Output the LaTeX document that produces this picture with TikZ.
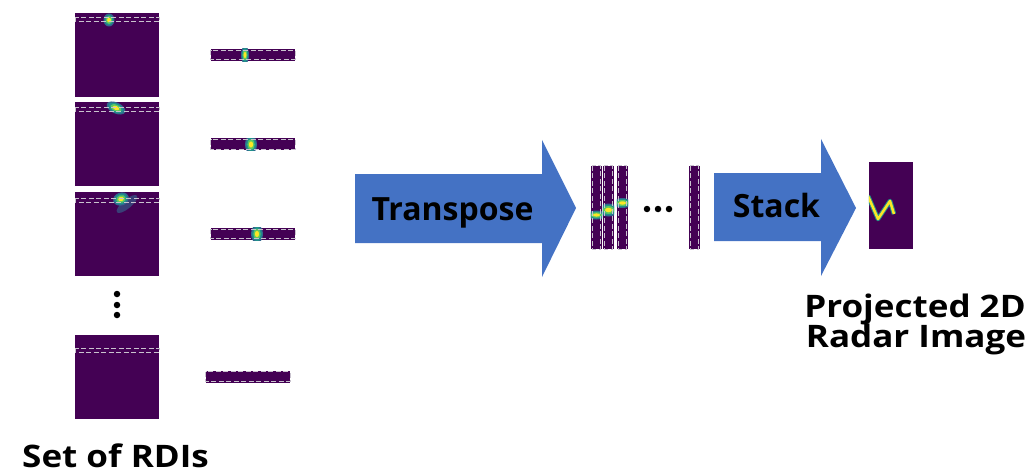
\documentclass[tikz,border=0pt]{standalone}
\usepackage{fontspec}
\setmainfont{Open Sans}
\newfontfamily\capfont[FakeStretch=1.13]{Open Sans}
\definecolor{vpurple}{HTML}{440154}
\definecolor{vblue}{HTML}{31688E}
\definecolor{vteal}{HTML}{21918C}
\definecolor{vgreen}{HTML}{5EC962}
\definecolor{vyellow}{HTML}{FDE725}
\definecolor{dashgray}{HTML}{C9C3CE}
\definecolor{arrowblue}{HTML}{4472C4}
\newcommand\myblob[5]{% x y rx ry rotate
  \fill[vblue,rotate around={#5:(#1,#2)}] (#1,#2) ellipse [x radius=#3, y radius=#4];
  \fill[vteal,rotate around={#5:(#1,#2)}] (#1,#2) ellipse [x radius=0.8*#3, y radius=0.8*#4];
  \fill[vgreen,rotate around={#5:(#1,#2)}] (#1,#2) ellipse [x radius=0.6*#3, y radius=0.6*#4];
  \fill[vyellow,rotate around={#5:(#1,#2)}] (#1,#2) ellipse [x radius=0.35*#3, y radius=0.35*#4];
}
\begin{document}
\begin{tikzpicture}[x=1pt,y=-1pt,
  rdi/.style={fill=vpurple,draw=none,minimum width=84pt,minimum height=84pt,inner sep=0pt,outer sep=0pt},
  hstrip/.style={fill=vpurple,draw=none,minimum width=84pt,minimum height=12pt,inner sep=0pt},
  vstrip/.style={fill=vpurple,draw=none,minimum width=11pt,minimum height=83pt,inner sep=0pt},
  dashline/.style={draw=dashgray,line width=1pt,dash pattern=on 5pt off 2.5pt},
  bigarrow/.style={fill=arrowblue,draw=none},
  lbl/.style={font=\bfseries\fontsize{32}{34}\selectfont,inner sep=0pt,anchor=base},
  captxt/.style={font=\capfont\bfseries\fontsize{31}{30}\selectfont,inner sep=0pt},
  dot/.style={circle,fill=black,inner sep=0pt,minimum size=6.5pt}]
\useasboundingbox (0,0) rectangle (1036,476);

% ---- RDIs ----
\node[rdi] (r1) at (117,55) {};
\node[rdi] (r2) at (117,144) {};
\node[rdi] (r3) at (117,234) {};
\node[rdi] (r4) at (117,377) {};
\begin{scope}
  \clip (r1.north west) rectangle (r1.south east);
  \myblob{109}{20}{5.5}{6.5}{0}
\end{scope}
\begin{scope}
  \clip (r2.north west) rectangle (r2.south east);
  \myblob{116}{108}{10}{5.5}{-25}
\end{scope}
\begin{scope}
  \clip (r3.north west) rectangle (r3.south east);
  \fill[vblue!60!vpurple,rotate around={40:(127,204)}] (127,204) ellipse [x radius=13, y radius=4.5];
  \myblob{121}{199}{8}{6.5}{20}
\end{scope}
\draw[dashline] (75,18) rectangle (159,22);
\draw[dashline] (75,108) rectangle (159,112);
\draw[dashline] (75,198) rectangle (159,202);
\draw[dashline] (75,348) rectangle (159,352);

\node[dot] (d1) at (117,294) {};
\node[dot] (d2) at (117,305) {};
\node[dot] (d3) at (117,315) {};

% ---- horizontal strips ----
\node[hstrip] (h1) at (253,55) {};
\node[hstrip] (h2) at (253,144.5) {};
\node[hstrip] (h3) at (253,234) {};
\node[hstrip] (h4) at (248,376.5) {};
\begin{scope}
  \clip (h1.north west) rectangle (h1.south east);
  \myblob{245}{55}{4}{9}{0}
\end{scope}
\begin{scope}
  \clip (h2.north west) rectangle (h2.south east);
  \myblob{251}{144.5}{6}{9}{0}
\end{scope}
\begin{scope}
  \clip (h3.north west) rectangle (h3.south east);
  \myblob{257}{234}{6}{9}{0}
\end{scope}
\foreach \n in {h1,h2,h3,h4}{
  \draw[dashline] ([shift={(0,1.5)}]\n.north west) rectangle ([shift={(0,-1.5)}]\n.south east);
}

% ---- Transpose arrow ----
\fill[bigarrow] (355,174) coordinate (ta) -- (542,174) -- (542,140) -- (576,208) coordinate (ttip)
  -- (542,277) -- (542,243) -- (355,243) -- cycle;
\node[lbl] (ttext) at (452.5,220) {Transpose};

% ---- vertical strips ----
\node[vstrip] (v1) at (596.5,207.5) {};
\node[vstrip] (v2) at (608.5,207.5) {};
\node[vstrip] (v3) at (622.5,207.5) {};
\node[vstrip] (v4) at (694.5,207.5) {};
\begin{scope}
  \clip (v1.north west) rectangle (v1.south east);
  \myblob{596.5}{215}{10}{4.5}{0}
\end{scope}
\begin{scope}
  \clip (v2.north west) rectangle (v2.south east);
  \myblob{608.5}{210}{10}{6.5}{0}
\end{scope}
\begin{scope}
  \clip (v3.north west) rectangle (v3.south east);
  \myblob{622.5}{203}{10}{5}{0}
\end{scope}
\foreach \n in {v1,v2,v3,v4}{
  \draw[dashline] ([shift={(1.5,0)}]\n.north west) rectangle ([shift={(-1.5,0)}]\n.south east);
}
\node[dot] (e1) at (647,209) {};
\node[dot] (e2) at (658,209) {};
\node[dot] (e3) at (669,209) {};

% ---- Stack arrow ----
\fill[bigarrow] (714,173) coordinate (sa) -- (821,173) -- (821,139) -- (856,208) coordinate (stip)
  -- (821,276) -- (821,241) -- (714,241) -- cycle;
\node[lbl] (stext) at (776.5,217) {Stack};

% ---- projected image ----
\node[fill=vpurple,minimum width=44pt,minimum height=87pt,inner sep=0pt] (proj) at (891,205.5) {};
\begin{scope}
  \clip (proj.north west) rectangle (proj.south east);
  \draw[vteal,line width=4.5pt,line join=round] (868,196) -- (878,219) -- (890,201) -- (894,214);
  \draw[vyellow,line width=2.5pt,line join=round] (868,196) -- (878,219) -- (890,201) -- (894,214);
\end{scope}

% ---- captions ----
\node[captxt,anchor=base] (ptext) at (915,317) {Projected 2D};
\node[captxt,anchor=base] (ptext2) at (916,347) {Radar Image};
\node[captxt,anchor=base west] (stitle) at (22,467) {Set of RDIs};
\end{tikzpicture}
\end{document}
